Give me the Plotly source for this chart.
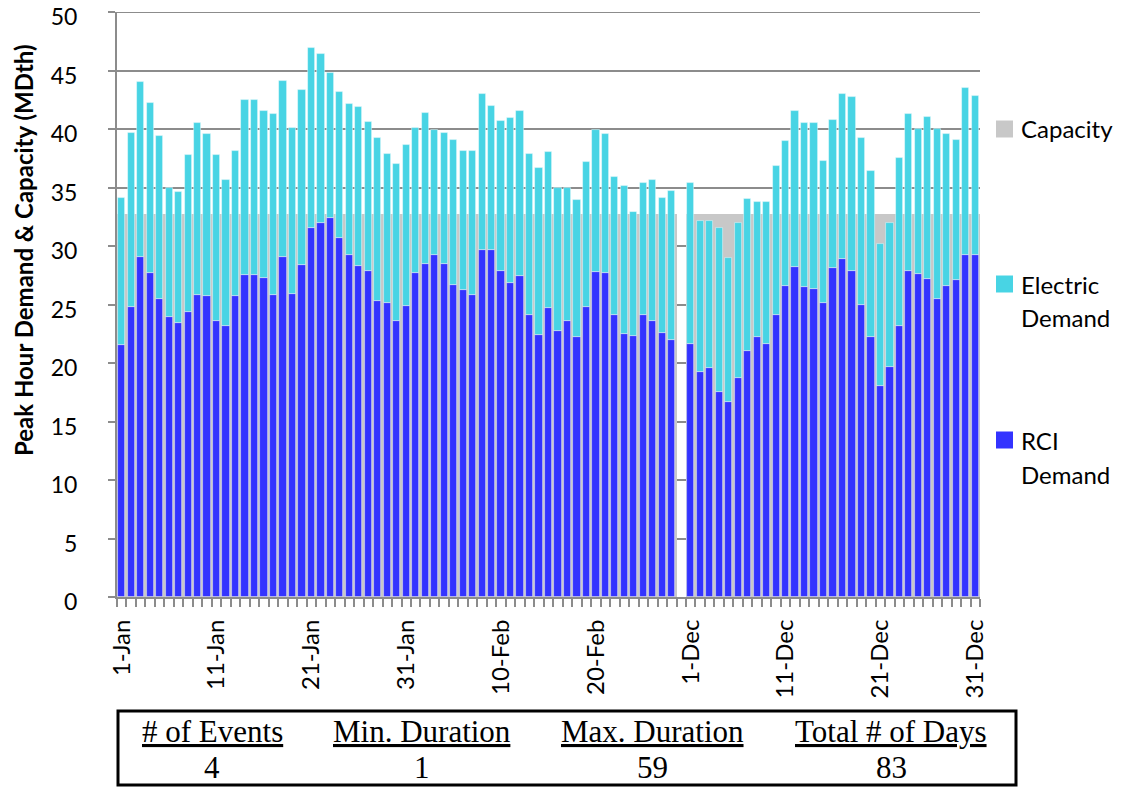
import plotly.graph_objects as go

# ---------------- data ----------------
jan_labels = [f"{d}-Jan" for d in range(1, 32)]
feb_labels = [f"{d}-Feb" for d in range(1, 29)]
dec_labels = [f"{d}-Dec" for d in range(1, 32)]

rci_jan = [21.5, 24.8, 29.1, 27.7, 25.5, 23.9, 23.4, 24.4, 25.8, 25.7,
           23.6, 23.2, 25.7, 27.5, 27.5, 27.3, 25.8, 29.1, 25.9, 28.4,
           31.5, 32.0, 32.4, 30.7, 29.2, 28.3, 27.9, 25.3, 25.1, 23.6, 24.9]
elec_jan = [12.6, 14.9, 14.9, 14.5, 13.9, 11.1, 11.2, 13.4, 14.7, 13.9,
            14.2, 12.4, 12.4, 15.0, 15.0, 14.2, 15.5, 15.0, 14.2, 14.9,
            15.4, 14.4, 12.4, 12.5, 12.9, 13.6, 12.7, 13.9, 12.8, 13.4, 13.7]

rci_feb = [27.7, 28.5, 29.2, 28.5, 26.7, 26.2, 25.8, 29.7, 29.7, 27.9,
           26.8, 27.4, 24.1, 22.4, 24.7, 22.7, 23.6, 22.2, 24.8, 27.8,
           27.7, 24.1, 22.5, 22.3, 24.1, 23.6, 22.6, 22.0]
elec_feb = [12.4, 12.9, 10.7, 11.2, 12.4, 11.9, 12.3, 13.3, 12.3, 12.8,
            14.1, 14.1, 13.8, 14.3, 13.3, 12.3, 11.4, 11.7, 12.4, 12.1,
            11.9, 11.8, 12.6, 10.6, 11.3, 12.0, 11.5, 12.7]

rci_dec = [21.6, 19.2, 19.6, 17.5, 16.7, 18.7, 21.0, 22.2, 21.6, 24.1,
           26.6, 28.2, 26.5, 26.3, 25.1, 28.1, 28.9, 27.9, 25.0, 22.2,
           18.0, 19.7, 23.2, 27.9, 27.6, 27.2, 25.5, 26.6, 27.1, 29.2, 29.2]
elec_dec = [13.8, 12.9, 12.5, 14.0, 12.3, 13.3, 13.0, 11.6, 12.2, 12.7,
            12.4, 13.3, 14.0, 14.2, 12.2, 12.7, 14.1, 14.8, 14.2, 14.2,
            12.2, 12.3, 14.3, 13.4, 12.4, 13.8, 14.5, 13.0, 12.0, 14.3, 13.6]

CAPACITY_MDTH = 32.7

table_headers = ["# of Events", "Min. Duration", "Max. Duration", "Total # of Days"]
table_values = ["4", "1", "59", "83"]

series_names = ["Capacity", "Electric Demand", "RCI Demand"]
y_ticks = [0, 5, 10, 15, 20, 25, 30, 35, 40, 45, 50]

# ---------------- assemble ----------------
categories = jan_labels + feb_labels + [""] + dec_labels
rci = rci_jan + rci_feb + [None] + rci_dec
electric = elec_jan + elec_feb + [None] + elec_dec
capacity = [CAPACITY_MDTH] * len(jan_labels + feb_labels) + [None] + [CAPACITY_MDTH] * len(dec_labels)
x = list(range(len(categories)))
tick_idx = list(range(0, len(categories), 10))

# ---------------- styling ----------------
OFF = 8                       # page body margin of the html page
W, H = 1121 - OFF, 788 - OFF
PL, PR, PT, PB = 117, 980, 12, 597   # plot area pixel box (screen coords)
FONT = "Lato"
C_CAP = "#C8C8C8"
C_ELEC = "#48D4E4"
C_RCI = "#3333FF"
GRID = "#8C8C8C"


def fx(p):
    return (p - PL) / (PR - PL)


def fy(p):
    return (PB - p) / (PB - PT)


bar_line = dict(color="rgba(255,255,255,0.55)", width=0.8)

fig = go.Figure()
fig.add_trace(go.Bar(x=x, y=capacity, name=series_names[0], width=1.0,
                     marker=dict(color=C_CAP, line=dict(width=0))))
fig.add_trace(go.Bar(x=x, y=rci, name=series_names[2], width=0.76,
                     marker=dict(color=C_RCI, line=bar_line)))
fig.add_trace(go.Bar(x=x, y=electric, base=rci, name=series_names[1], width=0.76,
                     marker=dict(color=C_ELEC, line=bar_line)))

fig.update_layout(
    width=W, height=H, autosize=False,
    margin=dict(l=PL - OFF, r=W - (PR - OFF), t=PT - OFF, b=H - (PB - OFF), pad=0,
                autoexpand=False),
    barmode="overlay", bargap=0,
    plot_bgcolor="white", paper_bgcolor="white",
    showlegend=False,
    font=dict(family=FONT, color="black"),
)

fig.update_xaxes(
    automargin=False,
    range=[-0.5, len(categories) - 0.5],
    tickmode="array", tickvals=tick_idx,
    ticktext=[categories[i] for i in tick_idx],
    tickangle=-90, tickfont=dict(family=FONT, size=24, color="black"),
    ticks="outside", ticklen=8, tickcolor="rgba(0,0,0,0)",
    ticklabelstandoff=3,
    minor=dict(tickvals=[i - 0.5 for i in range(len(categories) + 1)],
               ticks="outside", ticklen=8, tickcolor=GRID, tickwidth=1.5,
               showgrid=False),
    showline=True, linecolor=GRID, linewidth=2,
    showgrid=False, zeroline=False,
)

fig.update_yaxes(
    automargin=False,
    range=[0, 50], tickmode="array", tickvals=y_ticks,
    tickfont=dict(family=FONT, size=23, color="black"),
    ticks="outside", ticklen=7, tickcolor=GRID, tickwidth=1.5,
    ticklabelstandoff=26, ticklabelshift=5, ticklabeloverflow="allow",
    showline=True, linecolor=GRID, linewidth=2,
    showgrid=True, gridcolor=GRID, gridwidth=1.5,
    zeroline=False,
)

ann = []
shapes = []

# top gridline (plotly drops the one lying on the plot edge)
shapes.append(dict(type="line", xref="paper", yref="y", x0=0, x1=1,
                   y0=y_ticks[-1], y1=y_ticks[-1], layer="below",
                   line=dict(color=GRID, width=2)))

# y-axis title
ann.append(dict(xref="paper", yref="paper", x=fx(23), y=fy(250),
                text="<b>Peak Hour Demand &amp; Capacity (MDth)</b>",
                textangle=-90, showarrow=False, xanchor="center", yanchor="middle",
                font=dict(family=FONT, size=24, color="black")))

# legend (manual, to match layout)
legend_items = [
    (series_names[0], C_CAP, 129, ["Capacity"]),
    (series_names[1], C_ELEC, 284, ["Electric", "Demand"]),
    (series_names[2], C_RCI, 440, ["RCI", "Demand"]),
]
for name, col, cy, lines in legend_items:
    shapes.append(dict(type="rect", xref="paper", yref="paper",
                       x0=fx(996), x1=fx(1013), y0=fy(cy - 8.5), y1=fy(cy + 8.5),
                       fillcolor=col, line=dict(width=0)))
    for k, ln in enumerate(lines):
        ann.append(dict(xref="paper", yref="paper", x=fx(1019), y=fy(cy + 34 * k),
                        text=ln, showarrow=False, xanchor="left", yanchor="middle",
                        font=dict(family=FONT, size=24, color="black")))

# summary table below the chart
shapes.append(dict(type="rect", xref="paper", yref="paper",
                   x0=fx(118), x1=fx(1016), y0=fy(711), y1=fy(785),
                   line=dict(color="black", width=3), fillcolor="rgba(0,0,0,0)"))
col_centers = [212, 422, 652, 891]
for cx, h, v in zip(col_centers, table_headers, table_values):
    ann.append(dict(xref="paper", yref="paper", x=fx(cx), y=fy(731),
                    text=f"<u>{h}</u>", showarrow=False, xanchor="center", yanchor="middle",
                    font=dict(family="Liberation Serif", size=31, color="black")))
    ann.append(dict(xref="paper", yref="paper", x=fx(cx), y=fy(767),
                    text=v, showarrow=False, xanchor="center", yanchor="middle",
                    font=dict(family="Liberation Serif", size=31, color="black")))

fig.update_layout(annotations=ann, shapes=shapes)

fig.write_html("out.html")
